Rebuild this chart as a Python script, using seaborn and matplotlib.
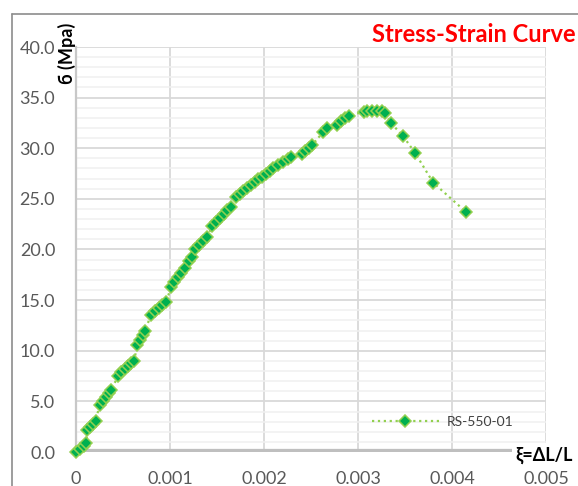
import matplotlib
matplotlib.use("Agg")
import matplotlib.pyplot as plt
import seaborn as sns
import pandas as pd
from matplotlib.lines import Line2D
from matplotlib.ticker import MultipleLocator

# Measured strain (ΔL/L) and stress (MPa) for specimen RS-550-01
strain = [
    0.00000, 0.00004, 0.00008, 0.00011,
    0.00012, 0.00015, 0.00018, 0.00021,
    0.00025, 0.00029, 0.00032, 0.00035, 0.00037,
    0.00045, 0.00048, 0.00052, 0.00055, 0.00059, 0.00062,
    0.00065, 0.00068, 0.00071, 0.00073,
    0.00080, 0.00084, 0.00088, 0.00092, 0.00096,
    0.00101, 0.00104, 0.00108, 0.00112, 0.00116,
    0.00120, 0.00123,
    0.00127, 0.00131, 0.00135, 0.00139,
    0.00145, 0.00149, 0.00153, 0.00157, 0.00161, 0.00165,
    0.00170, 0.00174, 0.00178, 0.00182, 0.00186, 0.00190, 0.00194,
    0.00198, 0.00202, 0.00206, 0.00210, 0.00215, 0.00220, 0.00225, 0.00229,
    0.00240, 0.00244, 0.00248, 0.00251,
    0.00263, 0.00267,
    0.00278, 0.00282, 0.00286, 0.00290,
    0.00306, 0.00310, 0.00315, 0.00320, 0.00325, 0.00329,
    0.00335, 0.00348, 0.00361, 0.00380, 0.00415,
]
stress = [
    0.0, 0.3, 0.6, 0.9,
    2.2, 2.5, 2.8, 3.1,
    4.6, 5.0, 5.4, 5.8, 6.1,
    7.5, 7.9, 8.2, 8.5, 8.8, 9.0,
    10.6, 11.1, 11.6, 12.0,
    13.5, 13.9, 14.2, 14.5, 14.8,
    16.3, 16.8, 17.3, 17.7, 18.2,
    18.9, 19.3,
    20.0, 20.4, 20.8, 21.2,
    22.3, 22.7, 23.1, 23.5, 23.9, 24.2,
    25.2, 25.5, 25.8, 26.1, 26.4, 26.7, 27.0,
    27.2, 27.5, 27.8, 28.0, 28.3, 28.6, 28.9, 29.1,
    29.4, 29.7, 30.0, 30.3,
    31.6, 32.0,
    32.3, 32.7, 33.0, 33.2,
    33.6, 33.7, 33.7, 33.7, 33.7, 33.5,
    32.5, 31.2, 29.5, 26.6, 23.7,
]
series_name = "RS-550-01"
x_ticks = [0, 0.001, 0.002, 0.003, 0.004, 0.005]
x_tick_labels = ["0", "0.001", "0.002", "0.003", "0.004", "0.005"]
y_ticks = [0, 5, 10, 15, 20, 25, 30, 35, 40]
y_tick_labels = ["0.0", "5.0", "10.0", "15.0", "20.0", "25.0", "30.0", "35.0", "40.0"]

df = pd.DataFrame({"strain": strain, "stress": stress, "specimen": series_name})

sns.set_theme(style="white")
plt.rcParams["font.family"] = ["Lato", "DejaVu Sans"]

W, H = 578, 486
fig = plt.figure(figsize=(W / 100, H / 100), dpi=100)
ax = fig.add_axes([76 / W, 1 - 452 / H, (546 - 76) / W, (452 - 47) / H])

sns.lineplot(
    data=df, x="strain", y="stress", ax=ax,
    estimator=None, sort=False,
    color="#92D050", linestyle=":", linewidth=1.6,
    marker="D", markersize=6.5, markerfacecolor="#00B050",
    markeredgecolor="#92D050", markeredgewidth=1.1,
    label=series_name, zorder=5, clip_on=False,
)

ax.set_xlim(0, 0.005)
ax.set_ylim(0, 40)
ax.set_xticks(x_ticks)
ax.set_xticklabels(x_tick_labels)
ax.set_yticks(y_ticks)
ax.set_yticklabels(y_tick_labels)
ax.yaxis.set_minor_locator(MultipleLocator(1))

ax.grid(which="major", axis="both", color="#D9D9D9", linewidth=1.3)
ax.grid(which="minor", axis="y", color="#F0F0F0", linewidth=1.1)
ax.set_axisbelow(True)
for side in ["top", "right", "bottom"]:
    ax.spines[side].set_visible(False)
ax.spines["left"].set_color("#C8C8C8")
ax.spines["left"].set_linewidth(1.6)

# heavy horizontal axis line at zero stress
ax.axhline(0, color="#BFBFBF", linewidth=4.5, zorder=3)

ax.tick_params(axis="both", which="both", length=0, labelsize=13, colors="#595959")
ax.tick_params(axis="y", pad=15)
ax.tick_params(axis="x", pad=14)
ax.set_xlabel("")
ax.set_ylabel("")

leg = ax.legend(
    loc="center left", bbox_to_anchor=(0.615, 0.074), frameon=False,
    fontsize=10, handlelength=4.8, handletextpad=0.6, borderpad=0,
    numpoints=1, labelcolor="#404040",
)

fig.text(372 / W, 1 - 35 / H, "Stress-Strain Curve", color="#FF0000",
         fontsize=17, fontweight="bold", ha="left", va="center")
fig.text(67 / W, 1 - 53 / H, "б (Mpa)", rotation=90, color="black",
         fontsize=13, fontweight="bold", ha="center", va="center")
fig.text(544 / W, 1 - 455 / H, "ξ=ΔL/L", color="black", fontsize=13,
         fontweight="bold", ha="center", va="center",
         bbox=dict(facecolor="white", edgecolor="none", pad=2.5))

# chart frame
fig.add_artist(Line2D([12 / W, 1.0], [1 - 14 / H, 1 - 14 / H], color="#8C8C8C", linewidth=1.2))
fig.add_artist(Line2D([12 / W, 12 / W], [0.0, 1 - 14 / H], color="#8C8C8C", linewidth=1.2))

fig.savefig("out.png", dpi=100, facecolor="white")
